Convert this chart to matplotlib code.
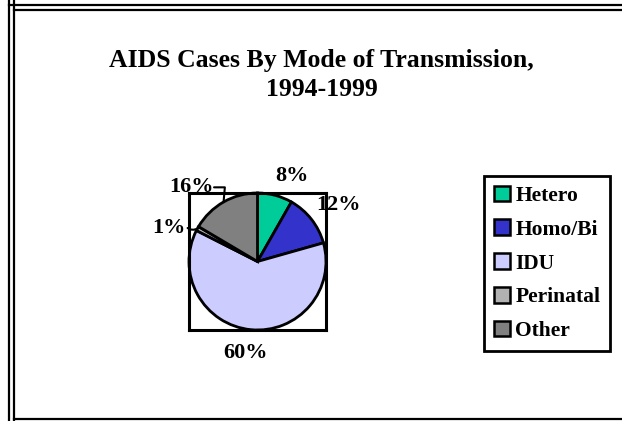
import matplotlib
matplotlib.use('Agg')
import matplotlib.pyplot as plt
from matplotlib.lines import Line2D
from matplotlib.patches import Patch
import numpy as np

categories = ['Hetero', 'Homo/Bi', 'IDU', 'Perinatal', 'Other']
values = [8, 12, 60, 1, 16]
labels = ['8%', '12%', '60%', '1%', '16%']
colors = ['#00CC99', '#3333CC', '#CCCCFF', '#B2B2B2', '#808080']
title = 'AIDS Cases By Mode of Transmission,\n1994-1999'


def draw():
    plt.rcParams['font.family'] = ['Liberation Serif', 'DejaVu Serif']
    plt.rcParams['font.weight'] = 'bold'
    W, H = 622, 421
    fig = plt.figure(figsize=(W / 100, H / 100), dpi=100)

    # double border (right side runs off the picture)
    for x in (8.5 / W, 13.5 / W):
        fig.add_artist(Line2D([x, x], [0, 1], color='black', lw=1.6))
    for y, x0 in ((1 - 4.5 / H, 8.5 / W), (1 - 10 / H, 13.5 / W)):
        fig.add_artist(Line2D([x0, 1], [y, y], color='black', lw=1.6))
    fig.add_artist(Line2D([13.5 / W, 1], [2.5 / H, 2.5 / H], color='black', lw=1.6))

    fig.text(0.517, 1 - 75 / H, title, ha='center', va='center',
             fontsize=18.5, fontweight='bold', linespacing=1.3)

    # pie plot area (the square box)
    ax = fig.add_axes([189 / W, 1 - 330 / H, 137 / W, 137 / H])
    wedges, _ = ax.pie(values, colors=colors, startangle=90, counterclock=False,
                       radius=1.0,
                       wedgeprops=dict(edgecolor='black', linewidth=2))
    ax.set_xlim(-1, 1)
    ax.set_ylim(-1, 1)
    ax.set_xticks([])
    ax.set_yticks([])
    ax.set_frame_on(True)
    for s in ax.spines.values():
        s.set_visible(True)
        s.set_linewidth(2.2)
        s.set_color('black')

    dist = [1.35, 1.44, 1.35, 1.38, 1.45]
    shift = [-7, -3, -2, 8, 12]
    for i, w in enumerate(wedges):
        m = np.deg2rad((w.theta1 + w.theta2) / 2)
        a = m + np.deg2rad(shift[i])
        tx, ty = dist[i] * np.cos(a), dist[i] * np.sin(a)
        ax.text(tx, ty, labels[i], ha='center', va='center', fontsize=16,
                fontweight='bold', clip_on=False)
        if i in (3, 4):
            # leader line from the label to its slice
            ex, ey = np.cos(m), np.sin(m)
            sx = tx + (0.27 if i == 3 else 0.33)
            cs = 'angle,angleA=0,angleB=85,rad=0' if i == 4 else 'arc3,rad=0.3'
            ax.annotate('', xy=(ex, ey), xytext=(sx, ty),
                        arrowprops=dict(arrowstyle='-', color='black', lw=1.5,
                                        connectionstyle=cs, shrinkA=0, shrinkB=0),
                        annotation_clip=False)

    handles = [Patch(facecolor=c, edgecolor='black', linewidth=1.8) for c in colors]
    leg = fig.legend(handles, categories, loc='upper left',
                     bbox_to_anchor=(484 / W, 1 - 176 / H),
                     frameon=True, fancybox=False, edgecolor='black',
                     prop=dict(family='Liberation Serif', weight='bold', size=15.5),
                     handlelength=0.75, handleheight=0.75, handletextpad=0.25,
                     labelspacing=0.62, borderpad=0.45, borderaxespad=0)
    leg.get_frame().set_linewidth(2)
    leg.get_frame().set_alpha(1)

    fig.savefig('out.png', dpi=100)


if __name__ == '__main__':
    draw()
